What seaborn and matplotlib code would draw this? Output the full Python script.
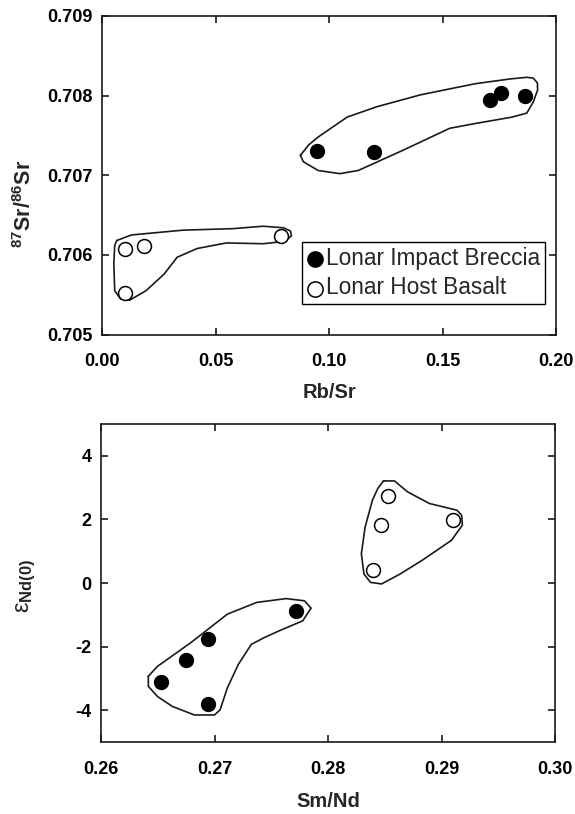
import numpy as np
import matplotlib
matplotlib.use("Agg")
import matplotlib.pyplot as plt
import seaborn as sns

# --- data ---
# top panel: Rb/Sr vs 87Sr/86Sr
rbsr_breccia = [0.0948, 0.1197, 0.1710, 0.1758, 0.1865]
sr_breccia = [0.70731, 0.70729, 0.70794, 0.70803, 0.70799]
rbsr_basalt = [0.0102, 0.0187, 0.0102, 0.0789]
sr_basalt = [0.70608, 0.70611, 0.70552, 0.70624]

# hand drawn field outlines (data units)
sr_breccia_outline_x = [0.0874, 0.0910, 0.0952, 0.108, 0.121, 0.1403, 0.1645, 0.1800, 0.1871,
                        0.1900, 0.1918, 0.1919, 0.1900, 0.1871, 0.1806, 0.1645, 0.1532, 0.1323,
                        0.1129, 0.1048, 0.0952, 0.0887]
sr_breccia_outline_y = [0.70725, 0.70738, 0.70748, 0.70773, 0.70786, 0.70801, 0.70815, 0.70821,
                        0.70823, 0.70822, 0.70816, 0.70807, 0.70792, 0.70778, 0.70773, 0.70765,
                        0.70759, 0.70731, 0.70706, 0.70702, 0.70706, 0.70717]
sr_basalt_outline_x = [0.0065, 0.0129, 0.0355, 0.0581, 0.071, 0.0800, 0.0830, 0.0835, 0.0806,
                       0.071, 0.0548, 0.0419, 0.0331, 0.0274, 0.0194, 0.0121, 0.0081,
                       0.0056, 0.0052, 0.0056]
sr_basalt_outline_y = [0.70618, 0.70625, 0.70631, 0.70633, 0.70636, 0.70634, 0.70630, 0.70624,
                       0.70617, 0.70614, 0.70615, 0.70608, 0.70597, 0.70576, 0.70555, 0.70543,
                       0.70545, 0.70555, 0.70589, 0.70612]

# bottom panel: Sm/Nd vs eps Nd(0)
smnd_breccia = [0.2653, 0.2675, 0.2694, 0.2694, 0.2772]
eps_breccia = [-3.12, -2.43, -1.75, -3.81, -0.88]
smnd_basalt = [0.2853, 0.2847, 0.2840, 0.2910]
eps_basalt = [2.75, 1.82, 0.41, 1.98]

nd_breccia_outline_x = [0.26417, 0.26498, 0.2679, 0.27113, 0.27372, 0.27631, 0.27793, 0.27851,
                        0.27777, 0.27566, 0.27437, 0.27324, 0.2721, 0.27113, 0.27049, 0.27,
                        0.26822, 0.26628, 0.26498, 0.26417]
nd_breccia_outline_y = [-2.93, -2.62, -1.88, -0.98, -0.61, -0.49, -0.56, -0.79,
                        -1.19, -1.51, -1.72, -1.93, -2.56, -3.30, -3.99, -4.15,
                        -4.15, -3.88, -3.57, -3.25]
nd_basalt_outline_x = [0.28489, 0.28586, 0.28699, 0.28893, 0.29136, 0.29178, 0.29184, 0.29087,
                       0.28828, 0.28634, 0.28472, 0.28375, 0.28317, 0.28294, 0.28327, 0.28392,
                       0.2844]
nd_basalt_outline_y = [3.21, 3.21, 2.87, 2.50, 2.29, 2.13, 1.82, 1.34,
                       0.71, 0.28, -0.03, 0.02, 0.28, 0.92, 1.76, 2.61, 2.98]

sr_xticks = [0.00, 0.05, 0.10, 0.15, 0.20]
sr_yticks = [0.705, 0.706, 0.707, 0.708, 0.709]
nd_xticks = [0.26, 0.27, 0.28, 0.29, 0.30]
nd_yticks = [-4, -2, 0, 2, 4]

labels = ["Lonar Impact Breccia", "Lonar Host Basalt"]

sns.set_theme(style="ticks")
plt.rcParams["font.family"] = ["Liberation Sans", "DejaVu Sans"]
plt.rcParams["mathtext.fontset"] = "custom"
plt.rcParams["mathtext.rm"] = "Liberation Sans"
plt.rcParams["mathtext.bf"] = "Liberation Sans:bold"
plt.rcParams["mathtext.it"] = "Liberation Sans:italic"

fig = plt.figure(figsize=(5.75, 8.14), dpi=100)
ax1 = fig.add_axes([102 / 575, 1 - 334.5 / 814, 454 / 575, 318.5 / 814])
ax2 = fig.add_axes([101 / 575, 1 - 742 / 814, 454 / 575, 318 / 814])

ink = "#1a1a1a"
ms = 100


def closed(v):
    return list(v) + [v[0]]


def style_axes(ax, xticks, yticks, xfmt, yfmt):
    ax.set_xlim(xticks[0], xticks[-1])
    ax.set_ylim(yticks[0], yticks[-1])
    ax.set_xticks(xticks)
    ax.set_yticks(yticks)
    ax.set_xticklabels([xfmt.format(v) for v in xticks])
    ax.set_yticklabels([yfmt.format(v) for v in yticks])
    for s in ax.spines.values():
        s.set_visible(True)
        s.set_linewidth(1.2)
        s.set_color(ink)
    ax.tick_params(direction="in", length=4.8, width=1.2, color=ink,
                   top=True, right=True, labelsize=13, labelcolor="black")
    ax.tick_params(axis="x", pad=13.5)
    ax.tick_params(axis="y", pad=7)
    for t in ax.get_xticklabels() + ax.get_yticklabels():
        t.set_fontweight("bold")


# top panel
ax1.plot(closed(sr_breccia_outline_x), closed(sr_breccia_outline_y), color=ink, lw=1.2, zorder=2)
ax1.plot(closed(sr_basalt_outline_x), closed(sr_basalt_outline_y), color=ink, lw=1.2, zorder=2)
sns.scatterplot(x=rbsr_breccia, y=sr_breccia, color="black", edgecolor="black",
                linewidth=1.0, s=ms, label=labels[0], ax=ax1, zorder=3)
sns.scatterplot(x=rbsr_basalt, y=sr_basalt, color="white", edgecolor="black",
                linewidth=1.1, s=ms, label=labels[1], ax=ax1, zorder=3)
style_axes(ax1, sr_xticks, sr_yticks, "{:.2f}", "{:.3f}")
ax1.set_xlabel("Rb/Sr", fontsize=14.5, fontweight="bold")
ax1.set_ylabel(r"$^{\mathbf{87}}\mathbf{Sr/}^{\mathbf{86}}\mathbf{Sr}$", fontsize=15.5)
ax1.xaxis.set_label_coords(0.5, -0.152)
ax1.xaxis.label.set_va("top")
ax1.yaxis.set_label_coords(-0.145, 0.41)

leg = ax1.legend(loc="upper left", bbox_to_anchor=(0.44, 0.2914), borderaxespad=0,
                 fontsize=16.3, frameon=True, fancybox=False, framealpha=1,
                 edgecolor="black", handlelength=0.75, handletextpad=0.1,
                 borderpad=0.22, labelspacing=0.3, markerscale=1.1)
leg.get_frame().set_linewidth(1.0)

# bottom panel
ax2.plot(closed(nd_breccia_outline_x), closed(nd_breccia_outline_y), color=ink, lw=1.2, zorder=2)
ax2.plot(closed(nd_basalt_outline_x), closed(nd_basalt_outline_y), color=ink, lw=1.2, zorder=2)
sns.scatterplot(x=smnd_breccia, y=eps_breccia, color="black", edgecolor="black",
                linewidth=1.0, s=ms, ax=ax2, zorder=3, legend=False)
sns.scatterplot(x=smnd_basalt, y=eps_basalt, color="white", edgecolor="black",
                linewidth=1.1, s=ms, ax=ax2, zorder=3, legend=False)
style_axes(ax2, nd_xticks, nd_yticks, "{:.2f}", "{:d}")
ax2.set_ylim(-5, 5)
ax2.set_xlabel("Sm/Nd", fontsize=14.5, fontweight="bold")
ax2.set_ylabel("ε$_{\\mathbf{Nd(0)}}$", fontsize=17)
ax2.xaxis.set_label_coords(0.5, -0.156)
ax2.xaxis.label.set_va("top")
ax2.yaxis.set_label_coords(-0.139, 0.49)

fig.savefig("out.png", dpi=100)
